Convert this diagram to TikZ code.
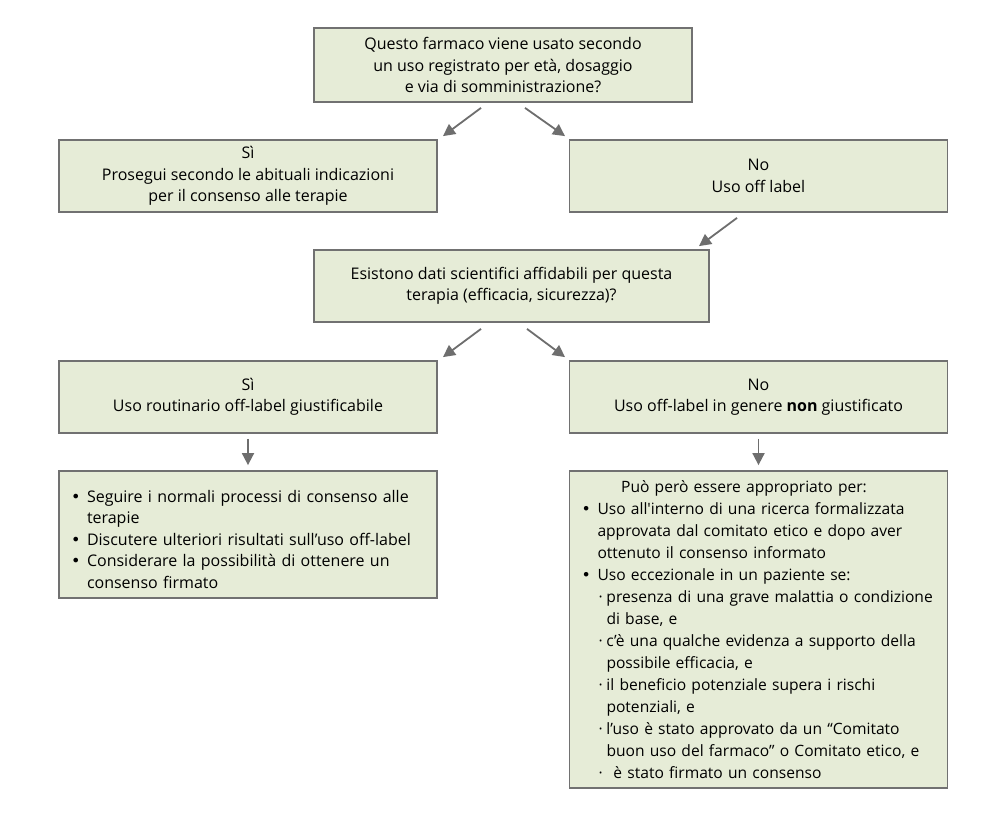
\documentclass[tikz,border=0pt]{standalone}
\usepackage{fontspec}
\setmainfont{Open Sans}
\newfontfamily\bulfont{DejaVu Sans}
\usetikzlibrary{arrows.meta,calc}

\definecolor{boxfill}{HTML}{E6ECD7}
\definecolor{boxline}{HTML}{717171}
\definecolor{arrgrey}{HTML}{6E6E6E}
\newcommand{\nl}{\hfil\break}
\newcommand{\bul}[1]{\par\hangindent=16pt\hangafter=1\noindent\makebox[16pt][l]{{\bulfont •}}#1\par}
\newcommand{\subbul}[1]{\par\hangindent=25pt\hangafter=1\noindent\hspace*{17pt}\makebox[8pt][l]{\textperiodcentered}#1\par}

\begin{document}
\begin{tikzpicture}[x=1pt,y=-1pt,
    box/.style={draw=boxline,line width=1.8pt,fill=boxfill,minimum width=378pt,minimum height=72pt,
      inner xsep=12pt,inner ysep=0pt,align=center,font=\fontsize{16}{21.5}\selectfont},
    listbox/.style={box,text width=354pt,align=left,execute at begin node={\hyphenpenalty=10000\hfuzz=30pt}},
    arr/.style={draw=arrgrey,line width=1.8pt,-{Triangle[length=12pt,width=12pt]}}]
    \useasboundingbox[fill=white] (0,0) rectangle (993,817);
    \node[box,minimum height=74pt] (q1) at (503,65) {Questo farmaco viene usato secondo\\un uso registrato per età, dosaggio\\e via di somministrazione?};
    \node[box] (si1) at (248,176) {Sì\\Prosegui secondo le abituali indicazioni\\per il consenso alle terapie};
    \node[box] (no1) at (758.5,176) {No\\Uso off label};
    \node[box,minimum width=395pt] (q2) at (511.5,286) {Esistono dati scientifici affidabili per questa\\terapia (efficacia, sicurezza)?};
    \node[box] (si2) at (248,397) {Sì\\Uso routinario off-label giustificabile};
    \node[box] (no2) at (758.5,397) {No\\Uso off-label in genere \textbf{non} giustificato};
    \node[listbox,minimum height=127pt] (sil) at (248,534.5) {%
      \bul{Seguire i normali processi di consenso alle\nl terapie}
      \bul{Discutere ulteriori risultati sull’uso off-label}
      \bul{Considerare la possibilità di ottenere un\nl consenso firmato}};
    \node[listbox,minimum height=317pt,font=\fontsize{15.6}{22}\selectfont] (nol) at (758.5,629.5) {%
      \noindent\makebox[\linewidth]{\hspace*{-29pt}Può però essere appropriato per:}\par
      \bul{Uso all\textquotesingle interno di una ricerca formalizzata\nl approvata dal comitato etico e dopo aver\nl ottenuto il consenso informato}
      \bul{Uso eccezionale in un paziente se:}
      \subbul{\mbox{presenza di una grave malattia o condizione}\nl di base, e}
      \subbul{\mbox{c’è una qualche evidenza a supporto della}\nl possibile efficacia, e}
      \subbul{il beneficio potenziale supera i rischi\nl potenziali, e}
      \subbul{l’uso è stato approvato da un “Comitato\nl \mbox{buon uso del farmaco” o Comitato etico, e}}
      \subbul{\hspace*{7pt}è stato firmato un consenso}};
    % frecce
    \draw[arr] ($(q1.south)+(-22,5)$) -- ($(si1.north)+(195,-3)$);
    \draw[arr] ($(q1.south)+(22,5)$) -- ($(no1.north)+(-193.5,-3)$);
    \draw[arr] ($(no1.south)+(-21.5,5)$) -- ($(q2.north)+(187.5,-3)$);
    \draw[arr] ($(q2.south)+(-30.5,6)$) -- ($(si2.north)+(195,-3)$);
    \draw[arr] ($(q2.south)+(15.5,6)$) -- ($(no2.north)+(-193.5,-3)$);
    \draw[arr,shorten <=5pt,shorten >=5pt] (si2.south) -- (sil.north);
    \draw[arr,shorten <=5pt,shorten >=5pt] (no2.south) -- (nol.north);
\end{tikzpicture}
\end{document}
